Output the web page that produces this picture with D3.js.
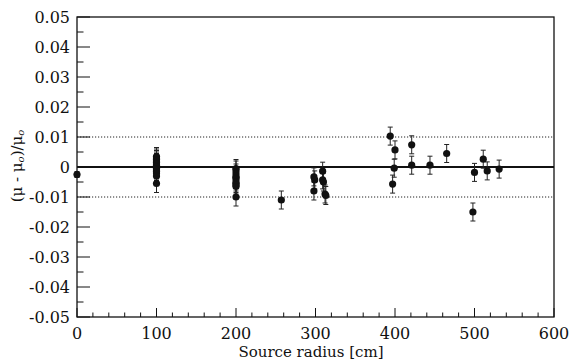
<!DOCTYPE html>
<html>
<head>
<meta charset="utf-8">
<script src="https://cdn.jsdelivr.net/npm/d3@7"></script>
<style>
  body { margin: 0; background: #fff; }
  svg { display: block; }
</style>
</head>
<body>
<svg id="drawing_region"></svg>
<script>
// source radius [cm] of each measurement
const radius = [0,
  100, 100, 100, 100, 100, 100, 100, 100, 100, 100, 100, 100, 100, 100,
  200, 200, 200, 200, 200, 200, 200, 200, 200, 200, 200,
  257,
  298, 299, 298, 309, 309, 310, 312, 313,
  394, 400, 399, 397, 421, 421, 444, 465,
  500, 498, 511, 516, 531];
// relative deviation (mu - mu0)/mu0
const deviation = [-0.0025,
  0.0035, 0.003, 0.0025, 0.002, 0.0015, 0.001, 0.0005, 0, -0.0005, -0.001, -0.0015, -0.002, -0.003, -0.0055,
  -0.0005, -0.001, -0.002, -0.003, -0.0035, -0.004, -0.005, -0.0055, -0.006, -0.0065, -0.01,
  -0.011,
  -0.0033, -0.0043, -0.008, -0.0014, -0.0043, -0.005, -0.009, -0.0095,
  0.0103, 0.0057, -0.0004, -0.0057, 0.0074, 0.0006, 0.0006, 0.0045,
  -0.0018, -0.015, 0.0026, -0.0013, -0.0007];
// error on each point
const errors = [0.001,
  0.003, 0.003, 0.003, 0.003, 0.003, 0.003, 0.003, 0.003, 0.003, 0.003, 0.003, 0.003, 0.003, 0.003,
  0.003, 0.003, 0.003, 0.003, 0.003, 0.003, 0.003, 0.003, 0.003, 0.003, 0.003,
  0.003,
  0.003, 0.003, 0.003, 0.003, 0.003, 0.003, 0.003, 0.003,
  0.003, 0.003, 0.003, 0.003, 0.003, 0.003, 0.003, 0.003,
  0.003, 0.003, 0.003, 0.003, 0.003];

const xTicks = [0, 100, 200, 300, 400, 500, 600];
const yTicks = [0.05, 0.04, 0.03, 0.02, 0.01, 0, -0.01, -0.02, -0.03, -0.04, -0.05];
const refLines = [0.01, -0.01];

const points = radius.map((r, i) => ({ r: r, v: deviation[i], e: errors[i] }));

const FONT = "DejaVu Serif";

const width = 569, height = 364;
const margin = { top: 17, right: 15, bottom: 47, left: 77 };
const innerW = width - margin.left - margin.right;
const innerH = height - margin.top - margin.bottom;

const svg = d3.select('#drawing_region')
    .attr('width', width)
    .attr('height', height);

const chart = svg.append('g')
    .attr('transform', `translate(${margin.left}, ${margin.top})`);

const xscale = d3.scaleLinear().domain([0, 600]).range([0, innerW]);
const yscale = d3.scaleLinear().domain([-0.05, 0.05]).range([innerH, 0]);

// minor ticks
const xMinor = d3.range(0, 601, 20);
const yMinor = d3.range(-0.05, 0.0501, 0.005);

chart.selectAll('.xminor')
    .data(xMinor)
    .enter().append('line')
    .attr('x1', d => xscale(d)).attr('x2', d => xscale(d))
    .attr('y1', innerH).attr('y2', d => innerH - ((Math.round(d) % 100 === 0) ? 9 : 4.5))
    .attr('stroke', '#111').attr('stroke-width', 1);

chart.selectAll('.yminor')
    .data(yMinor)
    .enter().append('line')
    .attr('x1', 0)
    .attr('x2', (d, i) => (i % 2 === 0) ? 13 : 6.5)
    .attr('y1', d => yscale(d)).attr('y2', d => yscale(d))
    .attr('stroke', '#111').attr('stroke-width', 1);

// tick labels
chart.selectAll('.xlabel')
    .data(xTicks)
    .enter().append('text')
    .attr('x', d => xscale(d))
    .attr('y', innerH + 22)
    .attr('text-anchor', 'middle')
    .attr('font-family', FONT)
    .attr('font-size', '16px')
    .attr('fill', '#111')
    .text(d => d);

chart.selectAll('.ylabel')
    .data(yTicks)
    .enter().append('text')
    .attr('x', -7)
    .attr('y', d => yscale(d) + 5.5)
    .attr('text-anchor', 'end')
    .attr('font-family', FONT)
    .attr('font-size', '16px')
    .attr('fill', '#111')
    .text(d => d === 0 ? '0' : d3.format('.2f')(d).replace('−', '-'));

// reference lines
chart.selectAll('.ref')
    .data(refLines)
    .enter().append('line')
    .attr('x1', 0).attr('x2', innerW)
    .attr('y1', d => yscale(d)).attr('y2', d => yscale(d))
    .attr('stroke', '#222').attr('stroke-width', 1)
    .attr('stroke-dasharray', '1.2,1.8');

chart.append('line')
    .attr('x1', 0).attr('x2', innerW)
    .attr('y1', yscale(0)).attr('y2', yscale(0))
    .attr('stroke', '#111').attr('stroke-width', 2);

// error bars
const bars = chart.selectAll('.err')
    .data(points)
    .enter().append('g')
    .attr('stroke', '#222').attr('stroke-width', 1);

bars.append('line')
    .attr('x1', d => xscale(d.r)).attr('x2', d => xscale(d.r))
    .attr('y1', d => yscale(d.v + d.e)).attr('y2', d => yscale(d.v - d.e));
bars.append('line')
    .attr('x1', d => xscale(d.r) - 2.5).attr('x2', d => xscale(d.r) + 2.5)
    .attr('y1', d => yscale(d.v + d.e)).attr('y2', d => yscale(d.v + d.e));
bars.append('line')
    .attr('x1', d => xscale(d.r) - 2.5).attr('x2', d => xscale(d.r) + 2.5)
    .attr('y1', d => yscale(d.v - d.e)).attr('y2', d => yscale(d.v - d.e));

chart.selectAll('circle')
    .data(points)
    .enter().append('circle')
    .attr('cx', d => xscale(d.r))
    .attr('cy', d => yscale(d.v))
    .attr('r', 3.6)
    .attr('fill', '#111');

// frame
chart.append('rect')
    .attr('x', 0).attr('y', 0)
    .attr('width', innerW).attr('height', innerH)
    .attr('fill', 'none')
    .attr('stroke', '#111').attr('stroke-width', 1.3);

// axis titles
chart.append('text')
    .attr('x', 234)
    .attr('y', innerH + 40)
    .attr('text-anchor', 'middle')
    .attr('font-family', FONT)
    .attr('font-size', '15px')
    .attr('fill', '#111')
    .text('Source radius [cm]');

const ytitle = svg.append('text')
    .attr('transform', 'translate(22, 166) rotate(-90)')
    .attr('text-anchor', 'middle')
    .attr('font-family', FONT)
    .attr('font-size', '15px')
    .attr('fill', '#111');
ytitle.append('tspan').text('(μ - μ');
ytitle.append('tspan').attr('font-size', '10px').attr('dy', 2).attr('font-style', 'italic').text('o');
ytitle.append('tspan').attr('dy', -2).text(')/μ');
ytitle.append('tspan').attr('font-size', '10px').attr('dy', 2).attr('font-style', 'italic').text('o');
</script>
</body>
</html>
